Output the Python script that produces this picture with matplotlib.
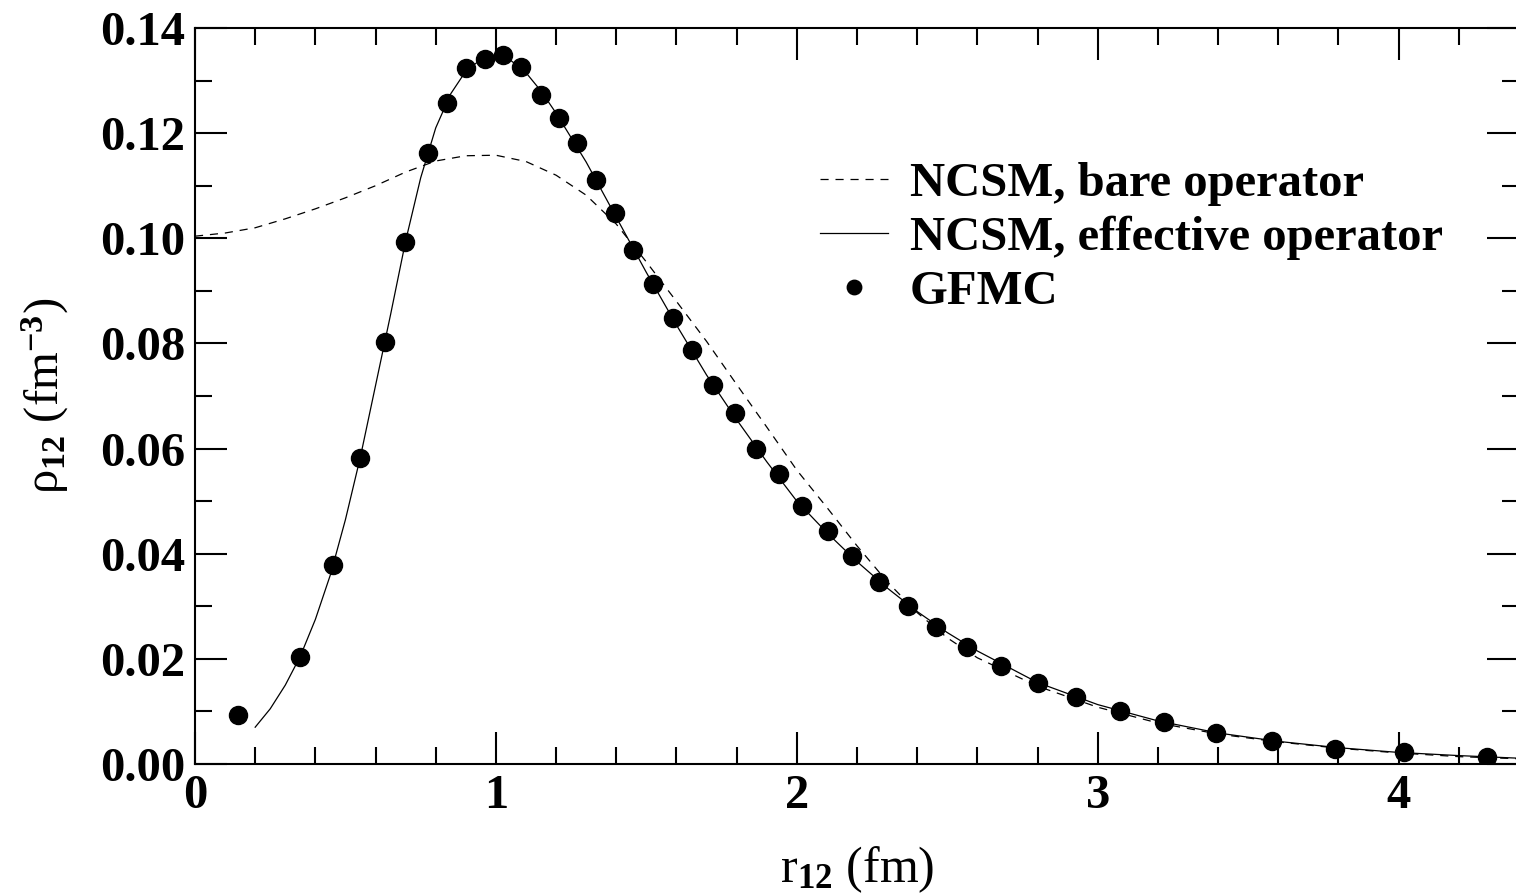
import matplotlib
matplotlib.use('Agg')
import matplotlib.pyplot as plt
from matplotlib.ticker import MultipleLocator, FormatStrFormatter

plt.rcParams['font.family'] = ['Liberation Serif', 'DejaVu Serif']
plt.rcParams['font.weight'] = 'bold'
plt.rcParams['mathtext.fontset'] = 'custom'
plt.rcParams['mathtext.rm'] = 'Liberation Serif:bold'
plt.rcParams['mathtext.it'] = 'Liberation Serif:italic:bold'
plt.rcParams['mathtext.bf'] = 'Liberation Serif:bold'

# GFMC points
r_gfmc = [0.143, 0.348, 0.458, 0.547, 0.630, 0.697, 0.773, 0.839, 0.899, 0.965,
          1.025, 1.085, 1.151, 1.211, 1.270, 1.333, 1.396, 1.456, 1.522, 1.589,
          1.652, 1.721, 1.794, 1.864, 1.940, 2.017, 2.103, 2.182, 2.272, 2.368,
          2.464, 2.567, 2.680, 2.803, 2.929, 3.075, 3.221, 3.393, 3.579, 3.788,
          4.017, 4.292]
rho_gfmc = [0.0093, 0.0204, 0.0379, 0.0582, 0.0803, 0.0993, 0.1162, 0.1257, 0.1324, 0.1341,
            0.1349, 0.1326, 0.1272, 0.1229, 0.1181, 0.1111, 0.1048, 0.0978, 0.0913, 0.0848,
            0.0787, 0.0721, 0.0668, 0.0599, 0.0552, 0.0491, 0.0443, 0.0396, 0.0346, 0.0301,
            0.0261, 0.0223, 0.0186, 0.0154, 0.0127, 0.0101, 0.0080, 0.0059, 0.0044, 0.0029,
            0.0023, 0.0013]

# NCSM, effective operator (solid)
r_eff = [0.2, 0.25, 0.3, 0.35, 0.4, 0.45, 0.5, 0.55, 0.6, 0.65, 0.7, 0.75, 0.8, 0.85,
         0.9, 0.95, 1.0, 1.05, 1.1, 1.15, 1.2, 1.3, 1.4, 1.5, 1.6, 1.7, 1.8, 1.9, 2.0,
         2.1, 2.2, 2.3, 2.4, 2.5, 2.6, 2.8, 3.0, 3.2, 3.4, 3.6, 3.8, 4.0, 4.2, 4.4]
rho_eff = [0.0070, 0.0105, 0.0150, 0.0205, 0.0275, 0.0360, 0.0465, 0.0585, 0.0720, 0.0855,
           0.0995, 0.1115, 0.1210, 0.1275, 0.1318, 0.1340, 0.1346, 0.1338, 0.1315, 0.1280,
           0.1238, 0.1145, 0.1040, 0.0935, 0.0835, 0.0740, 0.0655, 0.0575, 0.0500,
           0.0440, 0.0385, 0.0335, 0.0290, 0.0250, 0.0215, 0.0155, 0.0113, 0.0082, 0.0059,
           0.0043, 0.0031, 0.0022, 0.0016, 0.0011]

# NCSM, bare operator (dashed)
r_bare = [0.0, 0.1, 0.2, 0.3, 0.4, 0.5, 0.6, 0.7, 0.8, 0.9, 1.0, 1.1, 1.2, 1.3, 1.4,
          1.5, 1.6, 1.7, 1.8, 1.9, 2.0, 2.1, 2.2, 2.3, 2.4, 2.5, 2.6, 2.8, 3.0, 3.2,
          3.4, 3.6, 3.8, 4.0, 4.2, 4.4]
rho_bare = [0.1004, 0.1010, 0.1020, 0.1037, 0.1056, 0.1077, 0.1100, 0.1126, 0.1147, 0.1157,
            0.1158, 0.1146, 0.1120, 0.1082, 0.1027, 0.0955, 0.0880, 0.0804, 0.0722, 0.0641,
            0.0559, 0.0488, 0.0415, 0.0347, 0.0288, 0.0240, 0.0202, 0.0148, 0.0108, 0.0078,
            0.0057, 0.0042, 0.0030, 0.0021, 0.0014, 0.0010]

fig = plt.figure(figsize=(15.16, 8.94), dpi=100)
ax = fig.add_axes([195 / 1516, 130 / 894, 1324 / 1516, 736 / 894])

ax.plot(r_bare, rho_bare, color='black', lw=0.9, dashes=(6.5, 5.5),
        label='NCSM, bare operator')
ax.plot(r_eff, rho_eff, color='black', lw=0.9, label='NCSM, effective operator')
ax.plot(r_gfmc, rho_gfmc, 'o', color='black', ms=13, label='GFMC')

ax.set_xlim(0, 4.4)
ax.set_ylim(0, 0.14)
ax.xaxis.set_major_locator(MultipleLocator(1))
ax.xaxis.set_minor_locator(MultipleLocator(0.2))
ax.yaxis.set_major_locator(MultipleLocator(0.02))
ax.yaxis.set_minor_locator(MultipleLocator(0.01))
ax.yaxis.set_major_formatter(FormatStrFormatter('%.2f'))

ax.tick_params(which='both', direction='in', top=True, right=True, width=1.5,
               labelsize=35, pad=7)
ax.tick_params(which='major', length=23)
ax.tick_params(which='minor', length=12)
for s in ax.spines.values():
    s.set_linewidth(1.5)

ax.set_xlabel('r$_{12}$ (fm)', fontsize=36)
ax.xaxis.label.set_va('baseline')
ax.xaxis.set_label_coords(0.5, -0.160)
ax.set_ylabel('ρ$_{12}$ (fm$^{-3}$)', fontsize=35)
ax.yaxis.label.set_va('center')
ax.yaxis.set_label_coords(-0.1135, 0.5)

ax.legend(loc='upper left', bbox_to_anchor=(0.472, 0.818), frameon=False,
          fontsize=35, handlelength=1.40, handletextpad=0.45, labelspacing=0.20,
          borderpad=0, borderaxespad=0, markerscale=0.8)

fig.savefig('out.png', dpi=100)
